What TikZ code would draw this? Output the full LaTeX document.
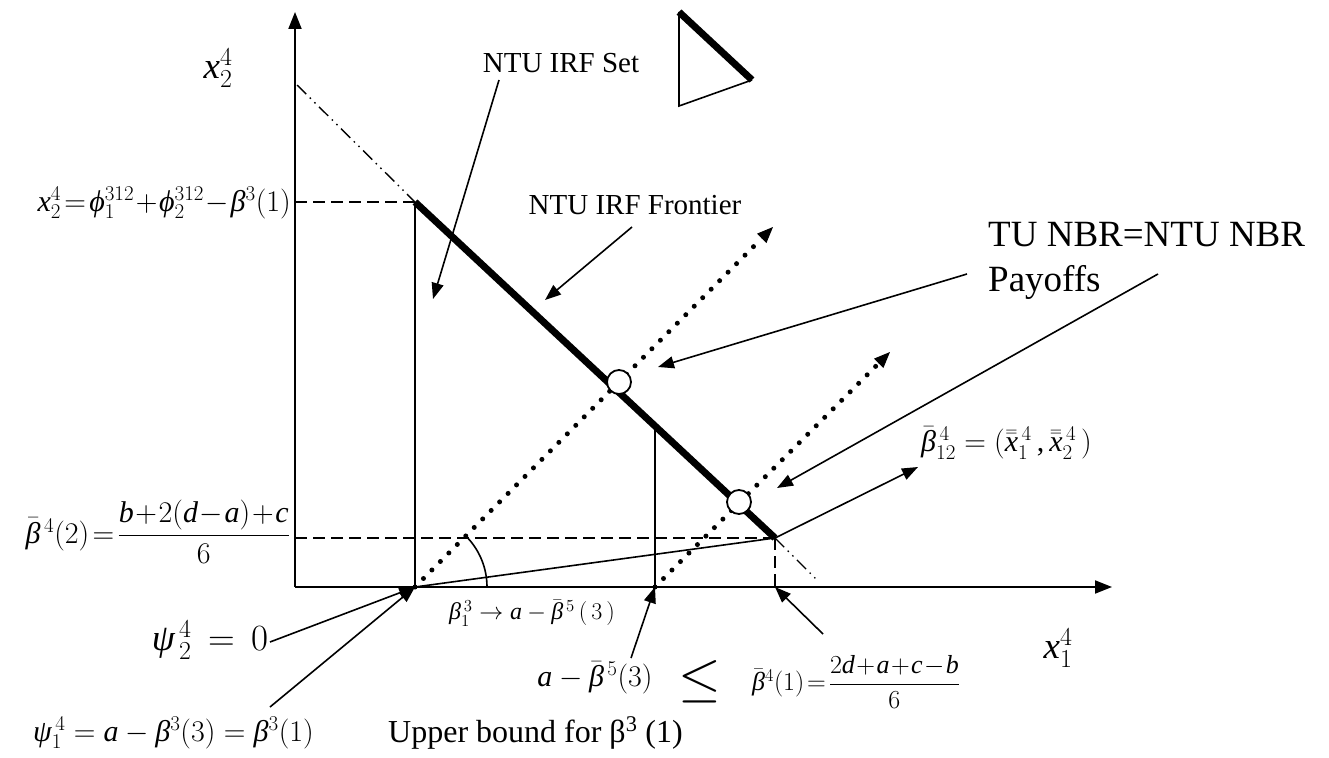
\RequirePackage{fix-cm}
\documentclass[tikz,border=0pt]{standalone}
\usepackage{amsmath}
\usepackage{fontspec}
\setmainfont{Liberation Serif}
\DeclareSymbolFont{tuletters}{TU}{\rmdefault}{m}{it}
\DeclareSymbolFont{tuops}{TU}{\rmdefault}{m}{n}
\makeatletter
\count@=`a
\loop \Umathcode\count@="7 \symtuletters \count@ \advance\count@ 1 \ifnum\count@<`\{ \repeat
\count@=`A
\loop \Umathcode\count@="7 \symtuletters \count@ \advance\count@ 1 \ifnum\count@<`\[ \repeat
\count@=`0
\loop \Umathcode\count@="7 \symtuops \count@ \advance\count@ 1 \ifnum\count@<`\: \repeat
\makeatother
\Umathcode`(="4 \symtuops `(
\Umathcode`)="5 \symtuops `)
\Umathcode`+="2 \symtuops `+
\Umathcode`=="3 \symtuops `=
\Umathcode`,="6 \symtuops `,
\Umathchardef\beta="0 \symtuletters "03B2
\Umathchardef\psi="0 \symtuletters "03C8
\Umathchardef\phi="0 \symtuletters "03D5
\usetikzlibrary{arrows.meta,calc}
\newcommand\fsz[1]{\fontsize{#1}{#1}\selectfont}
\tikzset{
  axisline/.style={line width=2pt,-{Triangle[length=17pt,width=13pt]}},
  thinline/.style={line width=1.6pt},
  arrline/.style={line width=1.6pt,-{Triangle[length=16pt,width=12pt]}},
  tiponly/.style={line width=1pt,-{Triangle[length=16pt,width=13pt]}},
  dotline/.style={line width=5pt,line cap=round,dash pattern=on 0pt off 12pt},
  thickline/.style={line width=7pt},
  dashline/.style={line width=1.6pt,dash pattern=on 12pt off 6pt},
  dashdotdot/.style={line width=1.4pt,dash pattern=on 13pt off 5pt on 1.5pt off 5pt on 1.5pt off 5pt},
  payoff/.style={circle,draw,fill=white,minimum size=24pt,inner sep=0pt,line width=1.8pt},
  lbl/.style={inner sep=0pt}
}
\begin{document}
\begin{tikzpicture}[x=1pt,y=-1pt]
\useasboundingbox (0,0) rectangle (1329,757);
% coordinates
\coordinate (O) at (295,587);
\coordinate (ytip) at (295,12);
\coordinate (xtip) at (1112,587);
\coordinate (A) at (415,202);
\coordinate (B) at (775,538);
\coordinate (P0) at (415,587);
\coordinate (Q0) at (655,587);
\coordinate (BX) at (775,587);
\coordinate (AY) at (295,202);
\coordinate (BY) at (295,538);
\coordinate (E1) at (297,85);
\coordinate (E2) at (818,581);
\coordinate (D1tip) at (773,227);
\coordinate (D2tip) at (890,352);
\coordinate (V2top) at (655,424);
% axes
\draw[axisline] (O) -- (ytip);
\draw[axisline] (O) -- (xtip);
% dash-dot extensions
\draw[dashdotdot] (E1) -- (A);
\draw[dashdotdot] (B) -- (E2);
% dashed guides
\draw[dashline] (AY) -- (A);
\draw[dashline] (BY) -- (B);
\draw[dashline] (B) -- (BX);
% thin lines
\draw[thinline] (A) -- (P0);
\draw[thinline] (V2top) -- (Q0);
\draw[thinline] (P0) -- (B);
\draw[thinline] (487,587) arc[start angle=0,end angle=-45,radius=72];
% dotted rays
\draw[dotline] (P0) -- ($(D1tip)!20pt!(P0)$);
\draw[tiponly] ($(D1tip)!16pt!(P0)$) -- (D1tip);
\draw[dotline] (Q0) -- ($(D2tip)!20pt!(Q0)$);
\draw[tiponly] ($(D2tip)!16pt!(Q0)$) -- (D2tip);
% frontier
\draw[thickline] (A) -- (B);
\node[payoff] (C1) at (619,382) {};
\node[payoff] (C2) at (739,502) {};
% icon
\coordinate (T1) at (679,12);
\coordinate (T2) at (752,80);
\coordinate (T3) at (679,106);
\draw[thinline,line join=miter] (T1) -- (T3) -- (T2);
\draw[thickline] (T1) -- (T2);
% labels
\node[lbl,font=\fsz{37}] (x2lab) at (218,68) {$x_2^4$};
\node[lbl,font=\fsz{37}] (x1lab) at (1058,648) {$x_1^4$};
\node[lbl,font=\fsz{30},anchor=east] (x2f) at (291,203) {$x_2^4\!=\!\phi_1^{312}\!+\!\phi_2^{312}\!-\!\beta^3(1)$};
\node[lbl,font=\fsz{29}] (setlab) at (561,63) {NTU IRF Set};
\node[lbl,font=\fsz{29}] (frlab) at (635,205) {NTU IRF Frontier};
\node[lbl,font=\fsz{37},anchor=west] (nbr1) at (988,235) {TU NBR=NTU NBR};
\node[lbl,font=\fsz{37},anchor=west] (nbr2) at (988,282) {Payoffs};
\node[lbl,font=\fsz{30},anchor=west] (b12) at (921,443) {$\bar{\beta}_{12}^{\,4}=(\bar{\bar{x}}_1^{\,4}\,,\bar{\bar{x}}_2^{\,4}\,)$};
\node[lbl,font=\fsz{30},anchor=east] (b42) at (290,532) {$\bar{\beta}^{\,4}(2)\!=\!\dfrac{b\!+\!2(d\!-\!a)\!+\!c}{6}$};
\node[lbl,font=\fsz{24}] (b13) at (532,613) {$\beta_1^{\,3}\rightarrow a-\bar{\beta}^{\,5}\,(\,3\,)$};
\node[lbl,font=\fsz{37}] (psi2) at (210,640) {$\psi_{\,2}^{\,4}\,=\,0$};
\node[lbl,font=\fsz{30}] (amb) at (595,678) {$a-\bar{\beta}^{\,5}(3)$};
\node[lbl,font=\fsz{55}] (leq) at (700,682) {$\leq$};
\node[lbl,font=\fsz{26},anchor=west] (b41) at (752,682) {$\bar{\beta}^4(1)\!=\!\dfrac{2d\!+\!a\!+\!c\!-\!b}{6}$};
\node[lbl,font=\fsz{30},anchor=west] (psi1) at (33,733) {$\psi_1^{\,4}=a-\beta^3(3)=\beta^3(1)$};
\node[lbl,font=\fsz{32},anchor=west] (ub) at (388,733) {Upper bound for β\textsuperscript{3} (1)};
% annotation arrows
\coordinate (s1) at (499,80);   \coordinate (s1t) at (433,299);
\coordinate (f1) at (632,227);  \coordinate (f1t) at (545,300);
\coordinate (n1) at (967,274);  \coordinate (n1t) at (658,367);
\coordinate (n2) at (1158,274); \coordinate (n2t) at (777,488);
\coordinate (b12t) at (918,467);
\coordinate (p2) at (270,642);
\coordinate (p1) at (270,707);
\coordinate (am) at (631,658);
\coordinate (bb) at (823,634);
\draw[arrline] (s1) -- (s1t);
\draw[arrline] (f1) -- (f1t);
\draw[arrline] (n1) -- (n1t);
\draw[arrline] (n2) -- (n2t);
\draw[arrline] (B) -- (b12t);
\draw[arrline] (p2) -- (P0);
\draw[arrline] (p1) -- (P0);
\draw[arrline] (am) -- (Q0);
\draw[arrline] (bb) -- (BX);
\end{tikzpicture}
\end{document}
